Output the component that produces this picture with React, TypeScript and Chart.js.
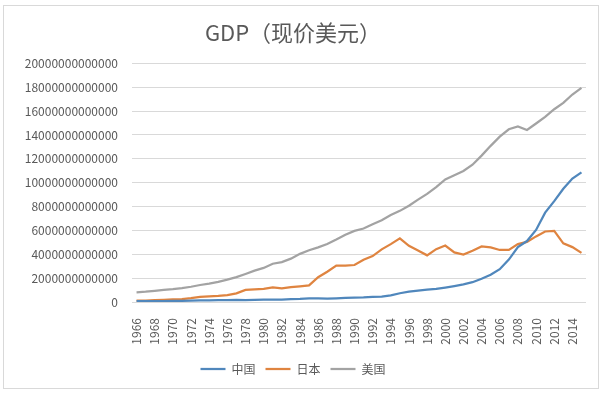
import React, { useEffect, useRef } from "react";
import { Chart, registerables } from "chart.js";

Chart.register(...registerables);

const years = [
  "1966", "1967", "1968", "1969", "1970", "1971", "1972", "1973", "1974", "1975",
  "1976", "1977", "1978", "1979", "1980", "1981", "1982", "1983", "1984", "1985",
  "1986", "1987", "1988", "1989", "1990", "1991", "1992", "1993", "1994", "1995",
  "1996", "1997", "1998", "1999", "2000", "2001", "2002", "2003", "2004", "2005",
  "2006", "2007", "2008", "2009", "2010", "2011", "2012", "2013", "2014", "2015",
];

// GDP in billions of current US dollars
const chinaBn = [
  77, 73, 71, 80, 93, 100, 114, 139, 144, 163,
  154, 175, 150, 178, 191, 196, 205, 231, 260, 310,
  301, 273, 312, 348, 361, 383, 427, 445, 564, 735,
  864, 962, 1029, 1094, 1211, 1339, 1471, 1660, 1955, 2286,
  2752, 3552, 4598, 5110, 6040, 7490, 8460, 9490, 10350, 10870,
];
const japanBn = [
  106, 124, 147, 172, 213, 240, 318, 432, 480, 522,
  586, 721, 1014, 1055, 1105, 1219, 1135, 1243, 1318, 1399,
  2079, 2533, 3050, 3040, 3100, 3540, 3850, 4410, 4850, 5330,
  4710, 4320, 3910, 4430, 4730, 4160, 3980, 4300, 4660, 4570,
  4360, 4360, 4850, 5040, 5500, 5910, 5960, 4920, 4600, 4120,
];
const usaBn = [
  815, 862, 942, 1019, 1073, 1165, 1279, 1425, 1545, 1684,
  1873, 2082, 2352, 2627, 2857, 3207, 3343, 3634, 4037, 4339,
  4580, 4855, 5236, 5642, 5963, 6158, 6520, 6859, 7287, 7640,
  8073, 8577, 9063, 9631, 10280, 10620, 10980, 11510, 12270, 13090,
  13860, 14480, 14720, 14420, 14960, 15520, 16160, 16690, 17390, 17950,
];

const seriesNames = ["中国", "日本", "美国"];
const yMax = 20000000000000;
const yStep = 2000000000000;

export default function App() {
  const ref = useRef<HTMLCanvasElement | null>(null);

  useEffect(() => {
    if (!ref.current) return;
    const font = "'Noto Sans CJK SC', 'Noto Sans', sans-serif";
    const textColor = "#595959";
    const mk = (arr: number[]) => arr.map((v) => v * 1e9);
    const chart = new Chart(ref.current, {
      type: "line",
      data: {
        labels: years,
        datasets: [
          { label: seriesNames[0], data: mk(chinaBn), borderColor: "#5087BC", backgroundColor: "#5087BC" },
          { label: seriesNames[1], data: mk(japanBn), borderColor: "#DF8440", backgroundColor: "#DF8440" },
          { label: seriesNames[2], data: mk(usaBn), borderColor: "#A3A3A3", backgroundColor: "#A3A3A3" },
        ].map((d) => ({ ...d, borderWidth: 2.25, pointRadius: 0, tension: 0, fill: false })),
      },
      options: {
        animation: false,
        responsive: false,
        maintainAspectRatio: false,
        layout: { padding: { left: 0, right: 22, top: 0, bottom: 10 } },
        plugins: {
          title: {
            display: true,
            text: "GDP（现价美元）",
            color: textColor,
            font: { family: font, size: 22, weight: "normal" },
            padding: { top: 19, bottom: 18 },
          },
          legend: {
            position: "bottom",
            labels: {
              color: textColor,
              font: { family: font, size: 12 },
              usePointStyle: true,
              pointStyle: "line",
              pointStyleWidth: 25,
              padding: 10,
            },
          },
          tooltip: { enabled: false },
        },
        scales: {
          x: {
            offset: true,
            grid: { display: false },
            border: { display: false },
            ticks: {
              autoSkip: false,
              maxRotation: 90,
              minRotation: 90,
              padding: 8,
              color: textColor,
              font: { family: font, size: 12 },
              callback: function (_v: any, i: number) {
                return i % 2 === 0 ? years[i] : "";
              },
            },
            afterFit: (s: any) => {
              s.height = 51;
            },
          },
          y: {
            min: 0,
            max: yMax,
            grid: { color: "#D9D9D9", drawTicks: false, lineWidth: 1 },
            border: { display: false },
            ticks: {
              stepSize: yStep,
              padding: 14,
              color: textColor,
              font: { family: font, size: 12 },
              callback: (v: any) => String(v),
            },
            afterFit: (s: any) => {
              s.width = 132;
            },
          },
        },
      },
    } as any);
    return () => chart.destroy();
  }, []);

  return (
    <div style={{ position: "fixed", left: 0, top: 0, width: 608, height: 395, background: "#fff" }}>
      <div
        style={{
          position: "absolute",
          left: 3,
          top: 5,
          width: 596,
          height: 384,
          border: "1px solid #D9D9D9",
          boxSizing: "border-box",
        }}
      />
      <canvas ref={ref} width={608} height={395} style={{ position: "absolute", left: 0, top: 0 }} />
    </div>
  );
}
